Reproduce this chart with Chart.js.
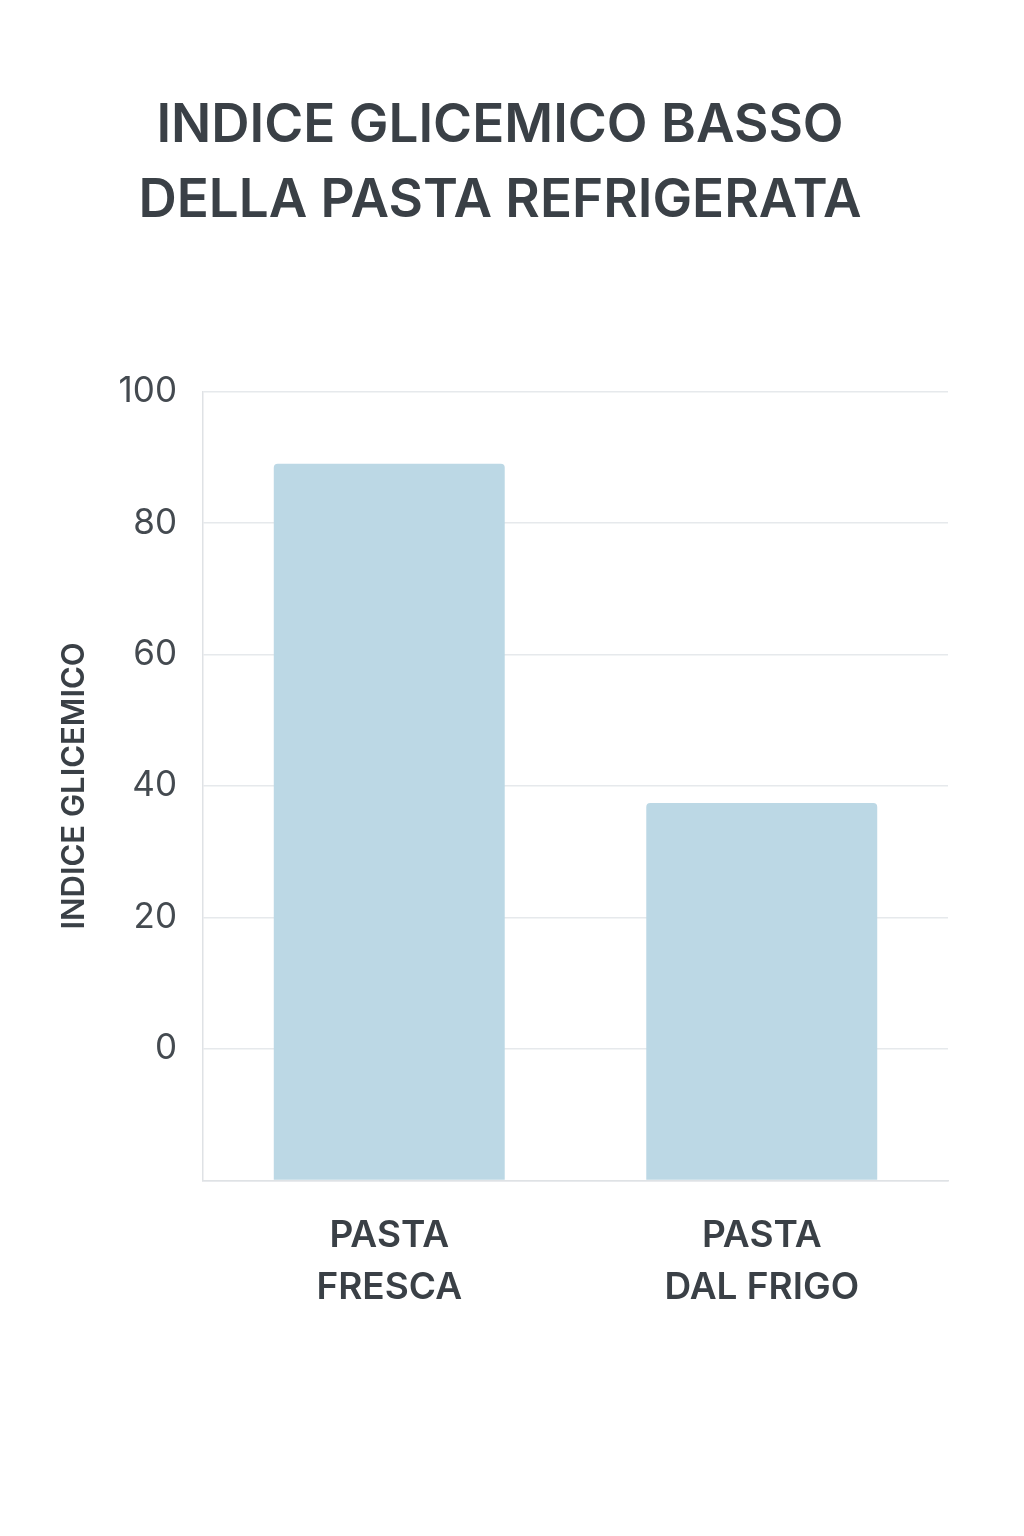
<!DOCTYPE html>
<html><head><meta charset="utf-8">
<script src="https://cdn.jsdelivr.net/npm/chart.js@4/dist/chart.umd.min.js"></script>
<style>html,body{margin:0;padding:0;background:#fff}</style>
</head><body>
<canvas id="c" width="1024" height="1536"></canvas>
<script>
const categories = [["PASTA","FRESCA"],["PASTA","DAL FRIGO"]];
const values = [89, 37.4];
const yTicks = [0,20,40,60,80,100];
const titleLines = ["INDICE GLICEMICO BASSO","DELLA PASTA REFRIGERATA"];
const yTitle = "INDICE GLICEMICO";

new Chart(document.getElementById('c'), {
  type: 'bar',
  data: { labels: categories, datasets: [{ data: values, base: -20,
    backgroundColor: '#bcd8e5', borderRadius: {topLeft:4, topRight:4}, borderSkipped: 'bottom',
    barPercentage: 0.62, categoryPercentage: 1 }] },
  options: {
    responsive: false, animation: false,
    layout: { padding: { top: 88, bottom: 200, left: 52, right: 76 } },
    plugins: { legend: { display: false }, tooltip: { enabled: false },
      title: { display: true, text: titleLines, color: '#3a4046',
        font: { family: 'Inter', size: 53, weight: '600', lineHeight: 1.42 },
        padding: { top: 0, bottom: 153 } } },
    scales: {
      y: { min: -20, max: 100,
        afterFit: s => { s.width = 151; },
        afterBuildTicks: s => { s.ticks = [-20, ...yTicks].map(v => ({value: v})); },
        ticks: { color: '#444a50', font: { family: 'Inter', size: 35 }, padding: 26,
          callback: v => yTicks.includes(v) ? String(v) : '' },
        grid: { color: '#e6e9ec', lineWidth: 1.5, drawTicks: false },
        border: { display: true, color: '#dfe2e5', width: 1.5 },
        title: { display: true, text: yTitle, color: '#3a4046',
          font: { family: 'Inter', size: 31, weight: '600' }, padding: { bottom: 30 } } },
      x: {
        ticks: { color: '#3a4046', font: { family: 'Inter', size: 37, weight: '600', lineHeight: 1.4 }, padding: 22 },
        grid: { display: false },
        border: { display: true, color: '#dfe2e5', width: 1.5 } }
    }
  }
});
</script>
</body></html>
